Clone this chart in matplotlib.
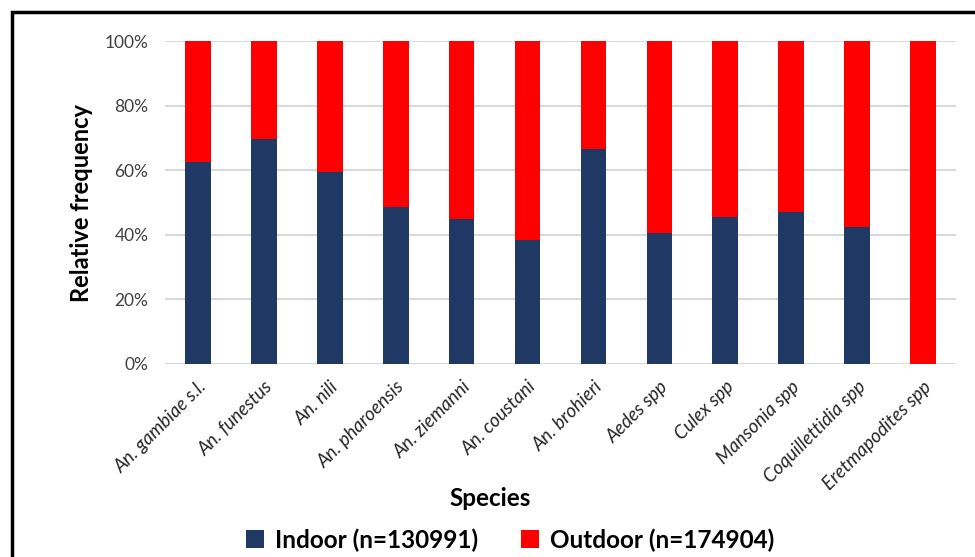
import matplotlib
matplotlib.use("Agg")
import matplotlib.pyplot as plt
from matplotlib.patches import Rectangle
from matplotlib.ticker import PercentFormatter

plt.rcParams['font.family'] = ['Lato', 'DejaVu Sans']

species = [
    "An. gambiae s.l.", "An. funestus", "An. nili", "An. pharoensis",
    "An. ziemanni", "An. coustani", "An. brohieri", "Aedes spp",
    "Culex spp", "Mansonia spp", "Coquillettidia spp", "Eretmapodites spp",
]
indoor_pct = [62.5, 69.7, 59.4, 48.6, 44.9, 38.3, 66.5, 40.6, 45.5, 47.2, 42.4, 0.0]
outdoor_pct = [100 - v for v in indoor_pct]
indoor_label = "Indoor (n=130991)"
outdoor_label = "Outdoor (n=174904)"

navy = "#203864"
red = "#FF0000"

fig = plt.figure(figsize=(9.75, 5.57), dpi=100)
ax = fig.add_axes([165 / 975, 1 - 364 / 557, (956 - 165) / 975, (364 - 41) / 557])

x = list(range(len(species)))
ax.bar(x, indoor_pct, width=0.39, color=navy, label=indoor_label, zorder=3)
ax.bar(x, outdoor_pct, width=0.39, bottom=indoor_pct, color=red,
       label=outdoor_label, zorder=3)

ax.set_xlim(-0.5, len(species) - 0.5)
ax.set_ylim(0, 100)
ax.set_yticks([0, 20, 40, 60, 80, 100])
ax.yaxis.set_major_formatter(PercentFormatter(decimals=0))
ax.grid(axis='y', color='#D9D9D9', linewidth=1.5, zorder=0)
for s in ax.spines.values():
    s.set_visible(False)
ax.tick_params(axis='both', length=0)
ax.tick_params(axis='y', labelsize=12.5, labelcolor='#404040', pad=12)

ax.set_xticks(x)
ax.set_xticklabels(species, rotation=45, ha='right', va='top',
                   rotation_mode='anchor', fontstyle='italic', fontsize=13.5,
                   color='#262626')
ax.tick_params(axis='x', pad=10)

ax.set_ylabel("Relative frequency", fontsize=17, fontweight='bold', labelpad=8)
fig.text(490 / 975, 1 - 498 / 557, "Species", fontsize=17.5, fontweight='bold',
         ha='center', va='center')

fig.legend(loc='center', bbox_to_anchor=(510 / 975, 1 - 540 / 557), ncol=2,
           frameon=False, handlelength=0.75, handleheight=0.75,
           columnspacing=1.75, handletextpad=0.45,
           prop={'weight': 'bold', 'size': 17.5})

# outer chart frame
fig.patches.append(Rectangle((12 / 975, -0.05), 1.1, 1 - 12 / 557 + 0.05,
                             transform=fig.transFigure, fill=False,
                             edgecolor='black', linewidth=2.5))

fig.savefig("out.png", dpi=100)
